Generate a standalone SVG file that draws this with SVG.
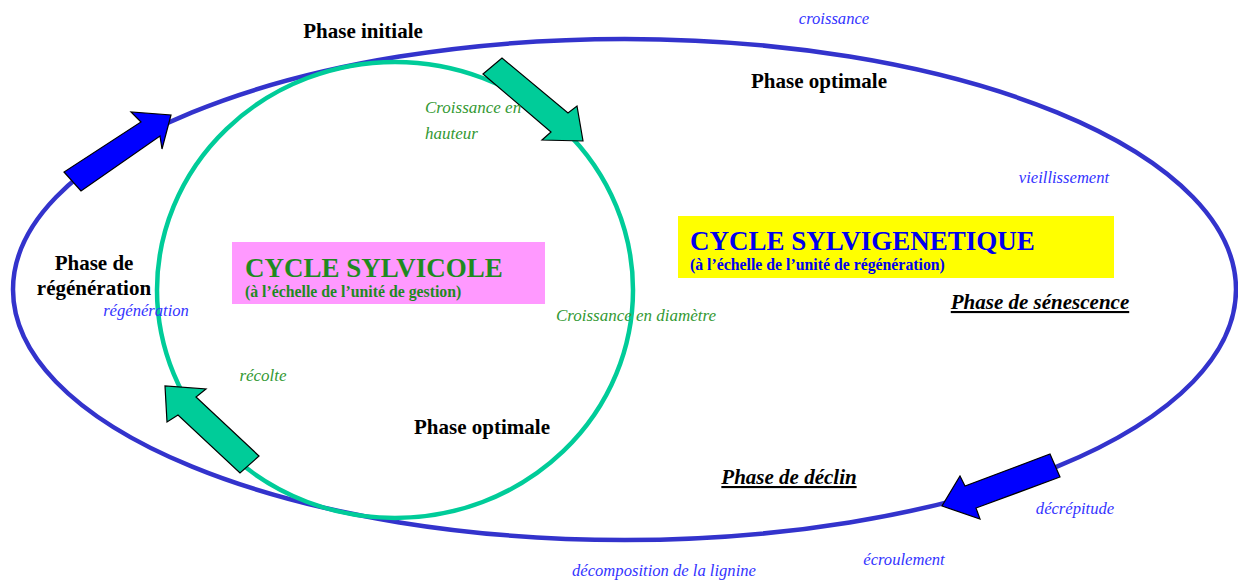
<svg xmlns="http://www.w3.org/2000/svg" width="1238" height="581" viewBox="0 0 1238 581">
<style>
.ph{font-family:"Liberation Serif",serif;font-weight:bold;font-size:21px;fill:#000}
.phu{font-family:"Liberation Serif",serif;font-weight:bold;font-style:italic;font-size:21px;fill:#000;text-decoration:underline}
.bi{font-family:"Liberation Serif",serif;font-style:italic;font-size:16.6px;fill:#3333ff}
.gi{font-family:"Liberation Serif",serif;font-style:italic;font-size:17px;fill:#339933}
.t1{font-family:"Liberation Serif",serif;font-weight:bold;font-size:27px}
.t2{font-family:"Liberation Serif",serif;font-weight:bold;font-size:15.8px}
.ga{fill:#00cc99;stroke:#000;stroke-width:1.2}
.ba{fill:#0000ff;stroke:#000;stroke-width:1.2}
</style>
<rect width="1238" height="581" fill="#fff"/>
<g id="connectors">
<ellipse cx="624.5" cy="289.5" rx="611.5" ry="250.5" fill="none" stroke="#3333cc" stroke-width="4.5"/>
<ellipse cx="395" cy="290" rx="238" ry="228" fill="none" stroke="#00cc99" stroke-width="4.5"/>
<polygon class="ga" points="483,74 502,58 568,113 577,106 583,141 542,140 551,132"/>
<polygon class="ba" points="64,172 81,191 160,136 162,149 171,115 131,112 141,122"/>
<polygon class="ga" points="259,456 240,473 178,415 167,422 165,386 206,389 196,397"/>
<polygon class="ba" points="1050,454 1060,477 976,508 980,519 942,506 960,476 965,486"/>
</g>
<g id="node-sylvicole">
<rect x="232" y="242" width="313" height="62" fill="#ff99ff"/>
<text class="t1" x="245" y="277" fill="#1f8a1f">CYCLE SYLVICOLE</text>
<text class="t2" x="245" y="297" fill="#1f8a1f">(à l’échelle de l’unité de gestion)</text>
</g>
<g id="node-sylvigenetique">
<rect x="678" y="216" width="436" height="62" fill="#ffff00"/>
<text class="t1" x="690" y="250" fill="#0000ee">CYCLE SYLVIGENETIQUE</text>
<text class="t2" x="690" y="270" fill="#0000ee">(à l’échelle de l’unité de régénération)</text>
</g>
<g id="labels">
<text class="ph" x="363" y="38" text-anchor="middle">Phase initiale</text>
<text class="ph" x="819" y="88" text-anchor="middle">Phase optimale</text>
<text class="ph" x="94" y="270" text-anchor="middle">Phase de</text>
<text class="ph" x="94" y="295" text-anchor="middle">régénération</text>
<text class="ph" x="482" y="434" text-anchor="middle">Phase optimale</text>
<text class="phu" x="1040" y="309" text-anchor="middle">Phase de sénescence</text>
<text class="phu" x="789" y="484" text-anchor="middle">Phase de déclin</text>
<text class="bi" x="834" y="24" text-anchor="middle">croissance</text>
<text class="bi" x="1064" y="183" text-anchor="middle">vieillissement</text>
<text class="bi" x="146" y="316" text-anchor="middle">régénération</text>
<text class="bi" x="1075" y="514" text-anchor="middle">décrépitude</text>
<text class="bi" x="904" y="565" text-anchor="middle">écroulement</text>
<text class="bi" x="664" y="576" text-anchor="middle">décomposition de la lignine</text>
<text class="gi" x="425" y="113">Croissance en</text>
<text class="gi" x="425" y="139">hauteur</text>
<text class="gi" x="636" y="321" text-anchor="middle">Croissance en diamètre</text>
<text class="gi" x="263" y="381" text-anchor="middle">récolte</text>
</g>
</svg>
